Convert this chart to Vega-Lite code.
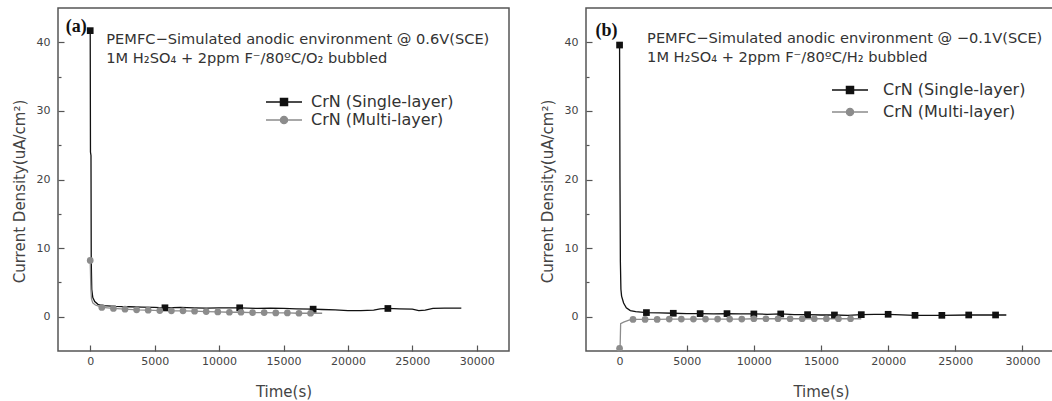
{
  "$schema": "https://vega.github.io/schema/vega-lite/v6.json",
  "padding": {"left": 11, "top": 7, "right": 0, "bottom": 0},
  "spacing": 29,
  "config": {
    "view": {"stroke": "#555", "strokeWidth": 1.5},
    "axis": {
      "domain": false,
      "grid": false,
      "labelFont": "DejaVu Sans",
      "labelFontSize": 11,
      "labelColor": "#444",
      "titleFont": "DejaVu Sans",
      "titleFontSize": 15,
      "titleFontWeight": "normal",
      "titleColor": "#444",
      "tickColor": "#555",
      "tickWidth": 1.2
    },
    "legend": {
      "orient": "none",
      "padding": 0,
      "labelFont": "DejaVu Sans",
      "labelFontSize": 16,
      "labelColor": "#333",
      "symbolSize": 144
    }
  },
  "datasets": {
    "curves": [
      {"panel": "a", "series": "CrN (Single-layer)", "t": 0, "j": 41.7},
      {"panel": "a", "series": "CrN (Single-layer)", "t": 20, "j": 24},
      {"panel": "a", "series": "CrN (Single-layer)", "t": 60, "j": 23.5},
      {"panel": "a", "series": "CrN (Single-layer)", "t": 80, "j": 8},
      {"panel": "a", "series": "CrN (Single-layer)", "t": 120, "j": 4},
      {"panel": "a", "series": "CrN (Single-layer)", "t": 200, "j": 2.8},
      {"panel": "a", "series": "CrN (Single-layer)", "t": 350, "j": 2.2},
      {"panel": "a", "series": "CrN (Single-layer)", "t": 600, "j": 1.8},
      {"panel": "a", "series": "CrN (Single-layer)", "t": 1000, "j": 1.6},
      {"panel": "a", "series": "CrN (Single-layer)", "t": 2000, "j": 1.5},
      {"panel": "a", "series": "CrN (Single-layer)", "t": 3000, "j": 1.45},
      {"panel": "a", "series": "CrN (Single-layer)", "t": 4000, "j": 1.4},
      {"panel": "a", "series": "CrN (Single-layer)", "t": 5000, "j": 1.35},
      {"panel": "a", "series": "CrN (Single-layer)", "t": 5800, "j": 1.3},
      {"panel": "a", "series": "CrN (Single-layer)", "t": 7000, "j": 1.35},
      {"panel": "a", "series": "CrN (Single-layer)", "t": 8000, "j": 1.3},
      {"panel": "a", "series": "CrN (Single-layer)", "t": 9000, "j": 1.25},
      {"panel": "a", "series": "CrN (Single-layer)", "t": 10000, "j": 1.3},
      {"panel": "a", "series": "CrN (Single-layer)", "t": 11600, "j": 1.3},
      {"panel": "a", "series": "CrN (Single-layer)", "t": 13000, "j": 1.2},
      {"panel": "a", "series": "CrN (Single-layer)", "t": 14000, "j": 1.25},
      {"panel": "a", "series": "CrN (Single-layer)", "t": 15000, "j": 1.2},
      {"panel": "a", "series": "CrN (Single-layer)", "t": 16000, "j": 1.15},
      {"panel": "a", "series": "CrN (Single-layer)", "t": 17300, "j": 1.1},
      {"panel": "a", "series": "CrN (Single-layer)", "t": 18000, "j": 1.05},
      {"panel": "a", "series": "CrN (Single-layer)", "t": 19000, "j": 1.0},
      {"panel": "a", "series": "CrN (Single-layer)", "t": 20000, "j": 0.9},
      {"panel": "a", "series": "CrN (Single-layer)", "t": 21000, "j": 0.9},
      {"panel": "a", "series": "CrN (Single-layer)", "t": 22000, "j": 0.95},
      {"panel": "a", "series": "CrN (Single-layer)", "t": 22500, "j": 1.15},
      {"panel": "a", "series": "CrN (Single-layer)", "t": 23100, "j": 1.2},
      {"panel": "a", "series": "CrN (Single-layer)", "t": 24000, "j": 1.15},
      {"panel": "a", "series": "CrN (Single-layer)", "t": 25000, "j": 1.1},
      {"panel": "a", "series": "CrN (Single-layer)", "t": 25500, "j": 0.9},
      {"panel": "a", "series": "CrN (Single-layer)", "t": 26000, "j": 0.95},
      {"panel": "a", "series": "CrN (Single-layer)", "t": 26600, "j": 1.2},
      {"panel": "a", "series": "CrN (Single-layer)", "t": 27500, "j": 1.25},
      {"panel": "a", "series": "CrN (Single-layer)", "t": 28800, "j": 1.25},

      {"panel": "a", "series": "CrN (Multi-layer)", "t": 0, "j": 8.2},
      {"panel": "a", "series": "CrN (Multi-layer)", "t": 50, "j": 4},
      {"panel": "a", "series": "CrN (Multi-layer)", "t": 100, "j": 2.6},
      {"panel": "a", "series": "CrN (Multi-layer)", "t": 200, "j": 2.0},
      {"panel": "a", "series": "CrN (Multi-layer)", "t": 400, "j": 1.7},
      {"panel": "a", "series": "CrN (Multi-layer)", "t": 700, "j": 1.5},
      {"panel": "a", "series": "CrN (Multi-layer)", "t": 900, "j": 1.35},
      {"panel": "a", "series": "CrN (Multi-layer)", "t": 1800, "j": 1.2},
      {"panel": "a", "series": "CrN (Multi-layer)", "t": 2700, "j": 1.1},
      {"panel": "a", "series": "CrN (Multi-layer)", "t": 3600, "j": 1.0},
      {"panel": "a", "series": "CrN (Multi-layer)", "t": 4500, "j": 0.95},
      {"panel": "a", "series": "CrN (Multi-layer)", "t": 5400, "j": 0.9},
      {"panel": "a", "series": "CrN (Multi-layer)", "t": 6300, "j": 0.85},
      {"panel": "a", "series": "CrN (Multi-layer)", "t": 7200, "j": 0.85},
      {"panel": "a", "series": "CrN (Multi-layer)", "t": 8100, "j": 0.8},
      {"panel": "a", "series": "CrN (Multi-layer)", "t": 9000, "j": 0.75},
      {"panel": "a", "series": "CrN (Multi-layer)", "t": 9900, "j": 0.7},
      {"panel": "a", "series": "CrN (Multi-layer)", "t": 10800, "j": 0.65},
      {"panel": "a", "series": "CrN (Multi-layer)", "t": 11700, "j": 0.65},
      {"panel": "a", "series": "CrN (Multi-layer)", "t": 12600, "j": 0.6},
      {"panel": "a", "series": "CrN (Multi-layer)", "t": 13500, "j": 0.6},
      {"panel": "a", "series": "CrN (Multi-layer)", "t": 14400, "j": 0.55},
      {"panel": "a", "series": "CrN (Multi-layer)", "t": 15300, "j": 0.55},
      {"panel": "a", "series": "CrN (Multi-layer)", "t": 16200, "j": 0.5},
      {"panel": "a", "series": "CrN (Multi-layer)", "t": 17100, "j": 0.5},
      {"panel": "a", "series": "CrN (Multi-layer)", "t": 18000, "j": 0.5},

      {"panel": "b", "series": "CrN (Single-layer)", "t": 0, "j": 39.6},
      {"panel": "b", "series": "CrN (Single-layer)", "t": 30, "j": 20},
      {"panel": "b", "series": "CrN (Single-layer)", "t": 60, "j": 8},
      {"panel": "b", "series": "CrN (Single-layer)", "t": 100, "j": 4},
      {"panel": "b", "series": "CrN (Single-layer)", "t": 150, "j": 3},
      {"panel": "b", "series": "CrN (Single-layer)", "t": 300, "j": 2},
      {"panel": "b", "series": "CrN (Single-layer)", "t": 500, "j": 1.3},
      {"panel": "b", "series": "CrN (Single-layer)", "t": 800, "j": 0.9},
      {"panel": "b", "series": "CrN (Single-layer)", "t": 1200, "j": 0.75},
      {"panel": "b", "series": "CrN (Single-layer)", "t": 2000, "j": 0.6},
      {"panel": "b", "series": "CrN (Single-layer)", "t": 3000, "j": 0.55},
      {"panel": "b", "series": "CrN (Single-layer)", "t": 4000, "j": 0.5},
      {"panel": "b", "series": "CrN (Single-layer)", "t": 5000, "j": 0.45},
      {"panel": "b", "series": "CrN (Single-layer)", "t": 6000, "j": 0.45},
      {"panel": "b", "series": "CrN (Single-layer)", "t": 7000, "j": 0.4},
      {"panel": "b", "series": "CrN (Single-layer)", "t": 8000, "j": 0.45},
      {"panel": "b", "series": "CrN (Single-layer)", "t": 9000, "j": 0.4},
      {"panel": "b", "series": "CrN (Single-layer)", "t": 10000, "j": 0.4},
      {"panel": "b", "series": "CrN (Single-layer)", "t": 11000, "j": 0.35},
      {"panel": "b", "series": "CrN (Single-layer)", "t": 12000, "j": 0.4},
      {"panel": "b", "series": "CrN (Single-layer)", "t": 13000, "j": 0.3},
      {"panel": "b", "series": "CrN (Single-layer)", "t": 14000, "j": 0.3},
      {"panel": "b", "series": "CrN (Single-layer)", "t": 15000, "j": 0.25},
      {"panel": "b", "series": "CrN (Single-layer)", "t": 16000, "j": 0.25},
      {"panel": "b", "series": "CrN (Single-layer)", "t": 17000, "j": 0.2},
      {"panel": "b", "series": "CrN (Single-layer)", "t": 18000, "j": 0.3},
      {"panel": "b", "series": "CrN (Single-layer)", "t": 19000, "j": 0.35},
      {"panel": "b", "series": "CrN (Single-layer)", "t": 20000, "j": 0.35},
      {"panel": "b", "series": "CrN (Single-layer)", "t": 22000, "j": 0.2},
      {"panel": "b", "series": "CrN (Single-layer)", "t": 24000, "j": 0.2},
      {"panel": "b", "series": "CrN (Single-layer)", "t": 26000, "j": 0.25},
      {"panel": "b", "series": "CrN (Single-layer)", "t": 28000, "j": 0.25},
      {"panel": "b", "series": "CrN (Single-layer)", "t": 28800, "j": 0.25},

      {"panel": "b", "series": "CrN (Multi-layer)", "t": 0, "j": -4.6},
      {"panel": "b", "series": "CrN (Multi-layer)", "t": 40, "j": -4.5},
      {"panel": "b", "series": "CrN (Multi-layer)", "t": 80, "j": -1.0},
      {"panel": "b", "series": "CrN (Multi-layer)", "t": 300, "j": -0.8},
      {"panel": "b", "series": "CrN (Multi-layer)", "t": 700, "j": -0.5},
      {"panel": "b", "series": "CrN (Multi-layer)", "t": 1000, "j": -0.4},
      {"panel": "b", "series": "CrN (Multi-layer)", "t": 1900, "j": -0.4},
      {"panel": "b", "series": "CrN (Multi-layer)", "t": 2800, "j": -0.4},
      {"panel": "b", "series": "CrN (Multi-layer)", "t": 3700, "j": -0.35},
      {"panel": "b", "series": "CrN (Multi-layer)", "t": 4600, "j": -0.35},
      {"panel": "b", "series": "CrN (Multi-layer)", "t": 5500, "j": -0.35},
      {"panel": "b", "series": "CrN (Multi-layer)", "t": 6400, "j": -0.35},
      {"panel": "b", "series": "CrN (Multi-layer)", "t": 7300, "j": -0.35},
      {"panel": "b", "series": "CrN (Multi-layer)", "t": 8200, "j": -0.35},
      {"panel": "b", "series": "CrN (Multi-layer)", "t": 9100, "j": -0.35},
      {"panel": "b", "series": "CrN (Multi-layer)", "t": 10000, "j": -0.3},
      {"panel": "b", "series": "CrN (Multi-layer)", "t": 10900, "j": -0.3},
      {"panel": "b", "series": "CrN (Multi-layer)", "t": 11800, "j": -0.3},
      {"panel": "b", "series": "CrN (Multi-layer)", "t": 12700, "j": -0.3},
      {"panel": "b", "series": "CrN (Multi-layer)", "t": 13600, "j": -0.3},
      {"panel": "b", "series": "CrN (Multi-layer)", "t": 14500, "j": -0.3},
      {"panel": "b", "series": "CrN (Multi-layer)", "t": 15400, "j": -0.3},
      {"panel": "b", "series": "CrN (Multi-layer)", "t": 16300, "j": -0.3},
      {"panel": "b", "series": "CrN (Multi-layer)", "t": 17200, "j": -0.3},
      {"panel": "b", "series": "CrN (Multi-layer)", "t": 18000, "j": -0.3}
    ],
    "markers": [
      {"panel": "a", "series": "CrN (Single-layer)", "t": 0, "j": 41.7},
      {"panel": "a", "series": "CrN (Single-layer)", "t": 5800, "j": 1.3},
      {"panel": "a", "series": "CrN (Single-layer)", "t": 11600, "j": 1.3},
      {"panel": "a", "series": "CrN (Single-layer)", "t": 17300, "j": 1.1},
      {"panel": "a", "series": "CrN (Single-layer)", "t": 23100, "j": 1.2},

      {"panel": "a", "series": "CrN (Multi-layer)", "t": 0, "j": 8.2},
      {"panel": "a", "series": "CrN (Multi-layer)", "t": 900, "j": 1.35},
      {"panel": "a", "series": "CrN (Multi-layer)", "t": 1800, "j": 1.2},
      {"panel": "a", "series": "CrN (Multi-layer)", "t": 2700, "j": 1.1},
      {"panel": "a", "series": "CrN (Multi-layer)", "t": 3600, "j": 1.0},
      {"panel": "a", "series": "CrN (Multi-layer)", "t": 4500, "j": 0.95},
      {"panel": "a", "series": "CrN (Multi-layer)", "t": 5400, "j": 0.9},
      {"panel": "a", "series": "CrN (Multi-layer)", "t": 6300, "j": 0.85},
      {"panel": "a", "series": "CrN (Multi-layer)", "t": 7200, "j": 0.85},
      {"panel": "a", "series": "CrN (Multi-layer)", "t": 8100, "j": 0.8},
      {"panel": "a", "series": "CrN (Multi-layer)", "t": 9000, "j": 0.75},
      {"panel": "a", "series": "CrN (Multi-layer)", "t": 9900, "j": 0.7},
      {"panel": "a", "series": "CrN (Multi-layer)", "t": 10800, "j": 0.65},
      {"panel": "a", "series": "CrN (Multi-layer)", "t": 11700, "j": 0.65},
      {"panel": "a", "series": "CrN (Multi-layer)", "t": 12600, "j": 0.6},
      {"panel": "a", "series": "CrN (Multi-layer)", "t": 13500, "j": 0.6},
      {"panel": "a", "series": "CrN (Multi-layer)", "t": 14400, "j": 0.55},
      {"panel": "a", "series": "CrN (Multi-layer)", "t": 15300, "j": 0.55},
      {"panel": "a", "series": "CrN (Multi-layer)", "t": 16200, "j": 0.5},
      {"panel": "a", "series": "CrN (Multi-layer)", "t": 17100, "j": 0.5},

      {"panel": "b", "series": "CrN (Single-layer)", "t": 0, "j": 39.6},
      {"panel": "b", "series": "CrN (Single-layer)", "t": 2000, "j": 0.6},
      {"panel": "b", "series": "CrN (Single-layer)", "t": 4000, "j": 0.5},
      {"panel": "b", "series": "CrN (Single-layer)", "t": 6000, "j": 0.45},
      {"panel": "b", "series": "CrN (Single-layer)", "t": 8000, "j": 0.45},
      {"panel": "b", "series": "CrN (Single-layer)", "t": 10000, "j": 0.4},
      {"panel": "b", "series": "CrN (Single-layer)", "t": 12000, "j": 0.4},
      {"panel": "b", "series": "CrN (Single-layer)", "t": 14000, "j": 0.3},
      {"panel": "b", "series": "CrN (Single-layer)", "t": 16000, "j": 0.25},
      {"panel": "b", "series": "CrN (Single-layer)", "t": 18000, "j": 0.3},
      {"panel": "b", "series": "CrN (Single-layer)", "t": 20000, "j": 0.35},
      {"panel": "b", "series": "CrN (Single-layer)", "t": 22000, "j": 0.2},
      {"panel": "b", "series": "CrN (Single-layer)", "t": 24000, "j": 0.2},
      {"panel": "b", "series": "CrN (Single-layer)", "t": 26000, "j": 0.25},
      {"panel": "b", "series": "CrN (Single-layer)", "t": 28000, "j": 0.25},

      {"panel": "b", "series": "CrN (Multi-layer)", "t": 0, "j": -4.6},
      {"panel": "b", "series": "CrN (Multi-layer)", "t": 1000, "j": -0.4},
      {"panel": "b", "series": "CrN (Multi-layer)", "t": 1900, "j": -0.4},
      {"panel": "b", "series": "CrN (Multi-layer)", "t": 2800, "j": -0.4},
      {"panel": "b", "series": "CrN (Multi-layer)", "t": 3700, "j": -0.35},
      {"panel": "b", "series": "CrN (Multi-layer)", "t": 4600, "j": -0.35},
      {"panel": "b", "series": "CrN (Multi-layer)", "t": 5500, "j": -0.35},
      {"panel": "b", "series": "CrN (Multi-layer)", "t": 6400, "j": -0.35},
      {"panel": "b", "series": "CrN (Multi-layer)", "t": 7300, "j": -0.35},
      {"panel": "b", "series": "CrN (Multi-layer)", "t": 8200, "j": -0.35},
      {"panel": "b", "series": "CrN (Multi-layer)", "t": 9100, "j": -0.35},
      {"panel": "b", "series": "CrN (Multi-layer)", "t": 10000, "j": -0.3},
      {"panel": "b", "series": "CrN (Multi-layer)", "t": 10900, "j": -0.3},
      {"panel": "b", "series": "CrN (Multi-layer)", "t": 11800, "j": -0.3},
      {"panel": "b", "series": "CrN (Multi-layer)", "t": 12700, "j": -0.3},
      {"panel": "b", "series": "CrN (Multi-layer)", "t": 13600, "j": -0.3},
      {"panel": "b", "series": "CrN (Multi-layer)", "t": 14500, "j": -0.3},
      {"panel": "b", "series": "CrN (Multi-layer)", "t": 15400, "j": -0.3},
      {"panel": "b", "series": "CrN (Multi-layer)", "t": 16300, "j": -0.3},
      {"panel": "b", "series": "CrN (Multi-layer)", "t": 17200, "j": -0.3}
    ]
  },
  "resolve": {
    "scale": {"color": "independent", "x": "independent", "y": "independent"},
    "legend": {"color": "independent"}
  },
  "hconcat": [
    {
      "width": 451,
      "height": 343,
      "layer": [
        {
          "encoding": {
            "x": {
              "field": "t", "type": "quantitative", "title": "Time(s)",
              "scale": {"domain": [-2500, 32500], "nice": false, "zero": false},
              "axis": {
                "values": [0, 2500, 5000, 7500, 10000, 12500, 15000, 17500, 20000, 22500, 25000, 27500, 30000],
                "format": "d",
                "labelExpr": "datum.value % 5000 === 0 ? datum.label : ''",
                "tickSize": {"condition": {"test": "datum.value % 5000 === 0", "value": -6}, "value": -3},
                "labelPadding": 10,
                "titlePadding": 18
              }
            },
            "y": {
              "field": "j", "type": "quantitative", "title": "Current Density(uA/cm²)",
              "scale": {"domain": [-5, 45], "nice": false, "zero": false},
              "axis": {
                "values": [0, 5, 10, 15, 20, 25, 30, 35, 40],
                "labelExpr": "datum.value % 10 === 0 ? datum.label : ''",
                "tickSize": {"condition": {"test": "datum.value % 10 === 0", "value": -6}, "value": -3},
                "labelPadding": 14,
                "titlePadding": 9,
                "titleY": 183
              }
            }
          },
          "layer": [
            {
              "data": {"name": "curves"},
              "transform": [{"filter": "datum.panel === 'a'"}],
              "mark": {"type": "line", "strokeWidth": 1.3},
              "encoding": {
                "color": {
                  "field": "series", "type": "nominal",
                  "scale": {"domain": ["CrN (Single-layer)", "CrN (Multi-layer)"], "range": ["#111111", "#8c8c8c"]},
                  "legend": {
                    "title": null,
                    "legendX": 218,
                    "legendY": 86,
                    "rowPadding": 2,
                    "labelOffset": 19,
                    "encode": {
                      "symbols": {
                        "update": {
                          "shape": {"signal": "datum.value === 'CrN (Single-layer)' ? 'M-3,0H3M-0.6,-0.6H0.6V0.6H-0.6Z' : 'M-3,0H3M-0.6,0A0.6,0.6 0 1,1 0.6,0A0.6,0.6 0 1,1 -0.6,0Z'"},
                          "fill": {"signal": "datum.value === 'CrN (Single-layer)' ? '#111111' : '#8c8c8c'"},
                          "stroke": {"signal": "datum.value === 'CrN (Single-layer)' ? '#111111' : '#8c8c8c'"},
                          "strokeWidth": {"value": 1.3},
                          "opacity": {"value": 1}
                        }
                      }
                    }
                  }
                }
              }
            },
            {
              "data": {"name": "markers"},
              "transform": [{"filter": "datum.panel === 'a'"}],
              "mark": {"type": "point", "filled": true, "opacity": 1, "size": 45},
              "encoding": {
                "color": {"condition": {"test": "datum.series === 'CrN (Single-layer)'", "value": "#111111"}, "value": "#8c8c8c"},
                "shape": {"condition": {"test": "datum.series === 'CrN (Single-layer)'", "value": "square"}, "value": "circle"}
              }
            }
          ]
        },
        {
          "data": {"values": [{"label": "(a)"}]},
          "mark": {"type": "text", "font": "Liberation Serif", "fontWeight": "bold", "fontSize": 18, "align": "left", "baseline": "middle", "color": "#111"},
          "encoding": {
            "x": {"datum": -1900, "type": "quantitative"},
            "y": {"datum": 42.3, "type": "quantitative"},
            "text": {"field": "label"}
          }
        },
        {
          "data": {"values": [{"lines": ["PEMFC−Simulated anodic environment @ 0.6V(SCE)", "1M H₂SO₄ + 2ppm F⁻/80ºC/O₂ bubbled"]}]},
          "mark": {"type": "text", "font": "DejaVu Sans", "fontSize": 14.6, "align": "left", "baseline": "middle", "lineHeight": 19, "color": "#333"},
          "encoding": {
            "x": {"datum": 1250, "type": "quantitative"},
            "y": {"datum": 40.3, "type": "quantitative"},
            "text": {"field": "lines"}
          }
        }
      ]
    },
    {
      "width": 470,
      "height": 343,
      "layer": [
        {
          "encoding": {
            "x": {
              "field": "t", "type": "quantitative", "title": "Time(s)",
              "scale": {"domain": [-2500, 32500], "nice": false, "zero": false},
              "axis": {
                "values": [0, 2500, 5000, 7500, 10000, 12500, 15000, 17500, 20000, 22500, 25000, 27500, 30000],
                "format": "d",
                "labelExpr": "datum.value % 5000 === 0 ? datum.label : ''",
                "tickSize": {"condition": {"test": "datum.value % 5000 === 0", "value": -6}, "value": -3},
                "labelPadding": 10,
                "titlePadding": 18
              }
            },
            "y": {
              "field": "j", "type": "quantitative", "title": "Current Density(uA/cm²)",
              "scale": {"domain": [-5, 45], "nice": false, "zero": false},
              "axis": {
                "values": [0, 5, 10, 15, 20, 25, 30, 35, 40],
                "labelExpr": "datum.value % 10 === 0 ? datum.label : ''",
                "tickSize": {"condition": {"test": "datum.value % 10 === 0", "value": -6}, "value": -3},
                "labelPadding": 14,
                "titlePadding": 9,
                "titleY": 183
              }
            }
          },
          "layer": [
            {
              "data": {"name": "curves"},
              "transform": [{"filter": "datum.panel === 'b'"}],
              "mark": {"type": "line", "strokeWidth": 1.3},
              "encoding": {
                "color": {
                  "field": "series", "type": "nominal",
                  "scale": {"domain": ["CrN (Single-layer)", "CrN (Multi-layer)"], "range": ["#111111", "#8c8c8c"]},
                  "legend": {
                    "title": null,
                    "legendX": 256,
                    "legendY": 74,
                    "rowPadding": 6,
                    "labelOffset": 25,
                    "encode": {
                      "symbols": {
                        "update": {
                          "shape": {"signal": "datum.value === 'CrN (Single-layer)' ? 'M-3,0H3M-0.6,-0.6H0.6V0.6H-0.6Z' : 'M-3,0H3M-0.6,0A0.6,0.6 0 1,1 0.6,0A0.6,0.6 0 1,1 -0.6,0Z'"},
                          "fill": {"signal": "datum.value === 'CrN (Single-layer)' ? '#111111' : '#8c8c8c'"},
                          "stroke": {"signal": "datum.value === 'CrN (Single-layer)' ? '#111111' : '#8c8c8c'"},
                          "strokeWidth": {"value": 1.3},
                          "opacity": {"value": 1}
                        }
                      }
                    }
                  }
                }
              }
            },
            {
              "data": {"name": "markers"},
              "transform": [{"filter": "datum.panel === 'b'"}],
              "mark": {"type": "point", "filled": true, "opacity": 1, "size": 45},
              "encoding": {
                "color": {"condition": {"test": "datum.series === 'CrN (Single-layer)'", "value": "#111111"}, "value": "#8c8c8c"},
                "shape": {"condition": {"test": "datum.series === 'CrN (Single-layer)'", "value": "square"}, "value": "circle"}
              }
            }
          ]
        },
        {
          "data": {"values": [{"label": "(b)"}]},
          "mark": {"type": "text", "font": "Liberation Serif", "fontWeight": "bold", "fontSize": 18, "align": "left", "baseline": "middle", "color": "#111"},
          "encoding": {
            "x": {"datum": -1800, "type": "quantitative"},
            "y": {"datum": 41.7, "type": "quantitative"},
            "text": {"field": "label"}
          }
        },
        {
          "data": {"values": [{"lines": ["PEMFC−Simulated anodic environment @ −0.1V(SCE)", "1M H₂SO₄ + 2ppm F⁻/80ºC/H₂ bubbled"]}]},
          "mark": {"type": "text", "font": "DejaVu Sans", "fontSize": 14.6, "align": "left", "baseline": "middle", "lineHeight": 19.5, "color": "#333"},
          "encoding": {
            "x": {"datum": 2050, "type": "quantitative"},
            "y": {"datum": 40.5, "type": "quantitative"},
            "text": {"field": "lines"}
          }
        }
      ]
    }
  ]
}
